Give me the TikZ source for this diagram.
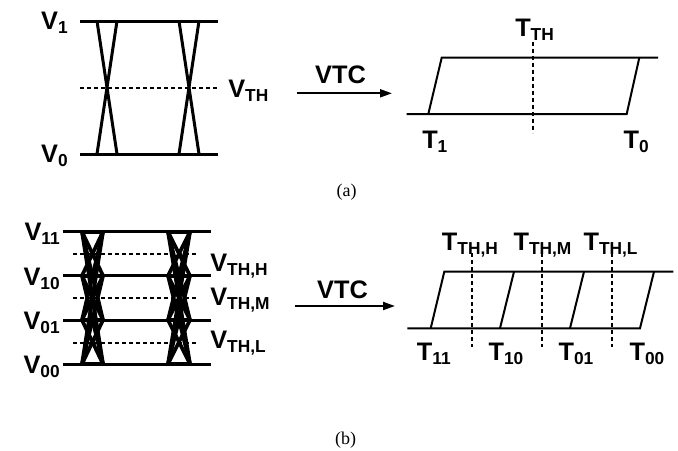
\documentclass[tikz,border=0pt]{standalone}
\usepackage{fontspec}
\usepackage{tikz}
\usetikzlibrary{arrows.meta}
\newfontfamily\lblfont{Liberation Sans}
\newfontfamily\capfont{Liberation Serif}
\newcommand{\lsub}[1]{\raisebox{-0.3ex}{\fontsize{13}{14}\selectfont #1}}

\begin{document}
\begin{tikzpicture}[x=0.75pt, y=-0.75pt,
    rail/.style={line width=2.25pt},
    eyeline/.style={line width=2.25pt},
    eyedense/.style={line width=2.8pt},
    thr/.style={line width=1.5pt, dash pattern=on 3pt off 2.25pt},
    loopline/.style={line width=1.5pt},
    lbl/.style={inner sep=0pt, font=\lblfont\bfseries\fontsize{19}{21}\selectfont},
    capt/.style={inner sep=0pt, font=\capfont\fontsize{13.5}{15}\selectfont},
    conv/.style={line width=1.5pt, -{Triangle[length=9pt, width=6pt]}}]
        \useasboundingbox (0,0) rectangle (678,450);

        % (a) binary eye
        \draw[rail] (80,21) -- (218,21);
        \draw[rail] (80,154) -- (218,154);
        \draw[thr] (80,88) -- (218,88);
        \draw[eyeline] (97,21) -- (117,154);
        \draw[eyeline] (117,21) -- (97,154);
        \draw[eyeline] (179,21) -- (199,154);
        \draw[eyeline] (199,21) -- (179,154);
        \node[lbl, anchor=base east] (v1) at (68,29) {V\lsub{1}};
        \node[lbl, anchor=base east] (v0) at (68,162) {V\lsub{0}};
        \node[lbl, anchor=base west] (vth) at (228,97) {V\lsub{TH}};

        % (a) conversion
        \coordinate (a1) at (297,93.3);
        \coordinate (a2) at (392,93.3);
        \draw[conv] (a1) -- (a2);
        \node[lbl, anchor=base] (vtca) at (340.5,83) {VTC};

        % (a) transfer curve
        \draw[loopline] (406.7,114) -- (626.7,114) -- (639.3,57.7);
        \draw[loopline] (428.3,114) -- (441.7,57.7) -- (658,57.7);
        \draw[thr] (533.3,41.7) -- (533.3,132.7);
        \node[lbl, anchor=base west] (tth) at (515,36) {T\lsub{TH}};
        \node[lbl, anchor=base west] (t1) at (422,148) {T\lsub{1}};
        \node[lbl, anchor=base west] (t0) at (623.3,148) {T\lsub{0}};

        \node[capt] (capa) at (346.5,192) {(a)};

        % (b) four-level eye
        \foreach \y in {231.7,275.7,320,364}
            \draw[rail] (63,\y) -- (211,\y);
        \foreach \y in {254,298,342.7}
            \draw[thr] (73,\y) -- (197,\y);
        \foreach \ya in {231.7,275.7,320,364}
            \foreach \yb in {231.7,275.7,320,364} {
                \draw[eyedense] (82,\ya) -- (103,\yb);
                \draw[eyedense] (168,\ya) -- (190,\yb);
            }
        \node[lbl, anchor=base east] (v11) at (60,240) {V\lsub{11}};
        \node[lbl, anchor=base east] (v10) at (60,285) {V\lsub{10}};
        \node[lbl, anchor=base east] (v01) at (60,329) {V\lsub{01}};
        \node[lbl, anchor=base east] (v00) at (60,373) {V\lsub{00}};
        \node[lbl, anchor=base west] (vthh) at (210,271) {V\lsub{TH,H}};
        \node[lbl, anchor=base west] (vthm) at (210,305) {V\lsub{TH,M}};
        \node[lbl, anchor=base west] (vthl) at (210,348) {V\lsub{TH,L}};

        % (b) conversion
        \coordinate (b1) at (295,306);
        \coordinate (b2) at (395,306);
        \draw[conv] (b1) -- (b2);
        \node[lbl, anchor=base] (vtcb) at (342.5,298) {VTC};

        % (b) transfer curve
        \draw[loopline] (407.3,328.3) -- (640,328.3) -- (654,271.7);
        \draw[loopline] (430.7,328.3) -- (444.3,271.7) -- (673.3,271.7);
        \draw[loopline] (500,328.3) -- (514,271.7);
        \draw[loopline] (570,328.3) -- (584,271.7);
        \foreach \x in {471.7,542.3,612.3}
            \draw[thr] (\x,253.3) -- (\x,346.7);
        \node[lbl, anchor=base west] (tthh) at (441.7,250) {T\lsub{TH,H}};
        \node[lbl, anchor=base west] (tthm) at (513.3,250) {T\lsub{TH,M}};
        \node[lbl, anchor=base west] (tthl) at (583.3,250) {T\lsub{TH,L}};
        \node[lbl, anchor=base west] (t11) at (416.7,360) {T\lsub{11}};
        \node[lbl, anchor=base west] (t10) at (488.3,360) {T\lsub{10}};
        \node[lbl, anchor=base west] (t01) at (558.3,360) {T\lsub{01}};
        \node[lbl, anchor=base west] (t00) at (629.3,360) {T\lsub{00}};

        \node[capt] (capb) at (345.5,440) {(b)};
\end{tikzpicture}
\end{document}
